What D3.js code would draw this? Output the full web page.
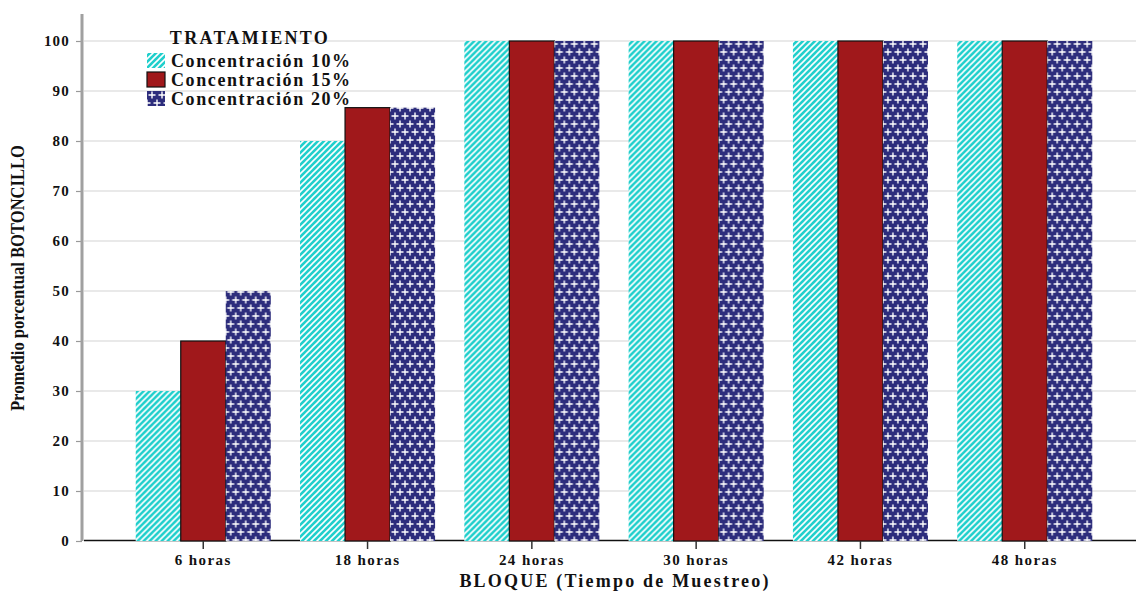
<!DOCTYPE html>
<html>
<head>
<meta charset="utf-8">
<script src="https://cdn.jsdelivr.net/npm/d3@7"></script>
<style>
  html, body { margin: 0; padding: 0; background: #fff; }
  svg { display: block; }
  text { font-family: "Liberation Serif", "DejaVu Serif", serif; font-weight: bold; fill: #111; }
</style>
</head>
<body>
<svg id="chart" width="1136" height="591"></svg>
<script>
// Sampling blocks (hours) and the three treatment concentrations
const bloques = ["6 horas", "18 horas", "24 horas", "30 horas", "42 horas", "48 horas"];
const tratamientos = ["Concentración 10%", "Concentración 15%", "Concentración 20%"];
const conc10 = [30, 80, 100, 100, 100, 100];
const conc15 = [40, 86.67, 100, 100, 100, 100];
const conc20 = [50, 86.67, 100, 100, 100, 100];
const yTicks = [0, 10, 20, 30, 40, 50, 60, 70, 80, 90, 100];

const series = [conc10, conc15, conc20];

const svg = d3.select("#chart");
const W = 1136, H = 591;

const x0 = d3.scaleBand().domain(bloques).range([82, 1146])
  .paddingInner(0.178).paddingOuter(0.327);
const x1 = d3.scaleBand().domain(tratamientos).range([0, x0.bandwidth()]);
const y = d3.scaleLinear().domain([0, 100]).range([541, 41]);

// Fill patterns
const defs = svg.append("defs");
const stripes = defs.append("pattern").attr("id", "pat10")
  .attr("patternUnits", "userSpaceOnUse").attr("width", 6).attr("height", 6);
stripes.append("rect").attr("width", 6).attr("height", 6).attr("fill", "#1fcfcc");
stripes.append("path").attr("d", "M0,6 L6,0 M-1,1 L1,-1 M5,7 L7,5")
  .attr("stroke", "#ffffff").attr("stroke-width", 1.6);

const plus = defs.append("pattern").attr("id", "pat20")
  .attr("patternUnits", "userSpaceOnUse").attr("width", 10).attr("height", 16);
plus.append("rect").attr("width", 10).attr("height", 16).attr("fill", "#2d2d7c");
const plusPath = (cx, cy) => `M${cx - 3.5},${cy} H${cx + 3.5} M${cx},${cy - 3.5} V${cy + 3.5}`;
plus.append("path")
  .attr("d", plusPath(5, 4) + plusPath(0, 12) + plusPath(10, 12))
  .attr("stroke", "#ffffff").attr("stroke-width", 1.4);

const fills = ["url(#pat10)", "#a0181b", "url(#pat20)"];

// Gridlines
svg.append("g").selectAll("line").data(yTicks.filter(d => d > 0)).join("line")
  .attr("x1", 84).attr("x2", W).attr("y1", d => y(d)).attr("y2", d => y(d))
  .attr("stroke", "#d4d4d4").attr("stroke-width", 1.2);

// Baseline
svg.append("line").attr("x1", 84).attr("x2", W).attr("y1", 540.5).attr("y2", 540.5)
  .attr("stroke", "#111").attr("stroke-width", 1.6);

// Bars
const groups = svg.append("g").selectAll("g").data(bloques).join("g")
  .attr("transform", d => `translate(${x0(d)},0)`);
groups.selectAll("rect")
  .data((d, i) => tratamientos.map((t, k) => ({ t, k, v: series[k][i] })))
  .join("rect")
  .attr("x", d => x1(d.t))
  .attr("y", d => y(d.v))
  .attr("width", x1.bandwidth())
  .attr("height", d => y(0) - y(d.v))
  .attr("fill", d => fills[d.k])
  .attr("stroke", d => d.k === 1 ? "#111" : "none")
  .attr("stroke-width", 1.2);

// Y axis
const yAxis = svg.append("g").attr("transform", "translate(82,0)")
  .call(d3.axisLeft(y).tickValues(yTicks).tickSize(6).tickPadding(6).tickFormat(d3.format("d")));
yAxis.select(".domain").remove();
yAxis.selectAll(".tick line").attr("stroke", "#999").attr("stroke-width", 1.2);
yAxis.selectAll(".tick text").attr("font-size", 15).style("letter-spacing", "1.2px");
svg.append("line").attr("x1", 82).attr("x2", 82).attr("y1", 14).attr("y2", 541)
  .attr("stroke", "#a0a0a0").attr("stroke-width", 3);

// X axis
const xAxis = svg.append("g").attr("transform", "translate(0,541)")
  .call(d3.axisBottom(x0).tickSize(8).tickPadding(5));
xAxis.select(".domain").remove();
xAxis.selectAll(".tick line").attr("stroke", "#333").attr("stroke-width", 1.5);
xAxis.selectAll(".tick text").attr("font-size", 15).style("letter-spacing", "1.4px");

// Axis titles
svg.append("text").attr("x", 615).attr("y", 587).attr("text-anchor", "middle")
  .attr("font-size", 18).style("letter-spacing", "2.2px").text("BLOQUE (Tiempo de Muestreo)");
svg.append("text").attr("transform", "translate(24,278) rotate(-90)")
  .attr("text-anchor", "middle").attr("font-size", 19)
  .attr("textLength", 266).attr("lengthAdjust", "spacingAndGlyphs")
  .text("Promedio porcentual BOTONCILLO");

// Legend
const legend = svg.append("g");
legend.append("text").attr("x", 250).attr("y", 44).attr("text-anchor", "middle")
  .attr("font-size", 18).style("letter-spacing", "2.3px").text("TRATAMIENTO");
const items = legend.selectAll("g.item").data(tratamientos).join("g").attr("class", "item")
  .attr("transform", (d, i) => `translate(147,${53 + i * 19})`);
items.append("rect").attr("width", 18).attr("height", 15)
  .attr("fill", (d, i) => fills[i])
  .attr("stroke", (d, i) => i === 1 ? "#111" : "none").attr("stroke-width", 1.2);
items.append("text").attr("x", 24).attr("y", 14).attr("font-size", 18)
  .style("letter-spacing", "1.6px").text(d => d);
</script>
</body>
</html>
